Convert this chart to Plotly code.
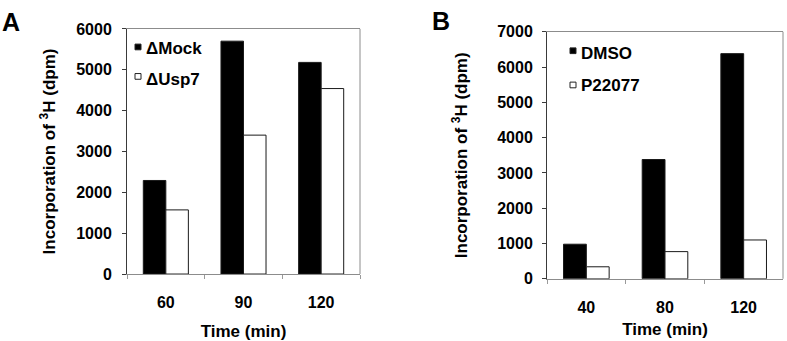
import plotly.graph_objects as go

# Panel A: [3H] incorporation, mock vs Usp7 depletion
times_a = ["60", "90", "120"]
mock = [2290, 5700, 5180]
usp7 = [1570, 3400, 4540]

# Panel B: [3H] incorporation, DMSO vs P22077
times_b = ["40", "80", "120"]
dmso = [980, 3380, 6380]
p22077 = [340, 770, 1100]

yticks_a = [0, 1000, 2000, 3000, 4000, 5000, 6000]
yticks_b = [0, 1000, 2000, 3000, 4000, 5000, 6000, 7000]

W, H = 787, 341
FONT = "Liberation Sans, Arial, Helvetica, sans-serif"


def px(x):
    return x / W


def py(y):
    return 1 - y / H


fig = go.Figure()

bar_line = dict(color="#1a1a1a", width=1)
fig.add_bar(x=times_a, y=mock, name="ΔMock", marker=dict(color="black", line=bar_line),
            xaxis="x", yaxis="y", showlegend=False)
fig.add_bar(x=times_a, y=usp7, name="ΔUsp7", marker=dict(color="white", line=bar_line),
            xaxis="x", yaxis="y", showlegend=False)
fig.add_bar(x=times_b, y=dmso, name="DMSO", marker=dict(color="black", line=bar_line),
            xaxis="x2", yaxis="y2", showlegend=False)
fig.add_bar(x=times_b, y=p22077, name="P22077", marker=dict(color="white", line=bar_line),
            xaxis="x2", yaxis="y2", showlegend=False)

tick_font = dict(family=FONT, size=16, color="black")
title_font = dict(family=FONT, size=17, color="black")

xcommon = dict(type="category", showline=True, linecolor="#8c8c8c", linewidth=1,
               mirror=True, ticks="outside", ticklen=4, tickcolor="#9a9a9a",
               tickson="boundaries", tickfont=tick_font, showgrid=False,
               zeroline=False, fixedrange=True, ticklabelstandoff=14)
ycommon = dict(showline=True, linecolor="#3a3a3a", linewidth=1, ticks="outside",
               ticklen=4, tickcolor="#3a3a3a", tickfont=tick_font, showgrid=False,
               zeroline=False, fixedrange=True)

bold = lambda v: f"<b>{v}</b>"

fig.update_layout(
    width=W, height=H,
    margin=dict(l=0, r=0, t=0, b=0),
    paper_bgcolor="white", plot_bgcolor="white",
    barmode="group", bargap=0.42, bargroupgap=0,
    font=dict(family=FONT, color="black"),
    xaxis=dict(xcommon, domain=[px(127), px(360)], anchor="y",
               tickvals=times_a, ticktext=[bold(t) for t in times_a],
               title=dict(text="<b>Time (min)</b>", font=title_font, standoff=15)),
    yaxis=dict(ycommon, domain=[py(280), py(22)], anchor="x",
               range=[0, 6000], tickvals=yticks_a, ticktext=[bold(v) for v in yticks_a],
               ticklabelstandoff=7,
               title=dict(text="<b>Incorporation of <sup>3</sup>H (dpm)</b>",
                          font=title_font, standoff=16)),
    xaxis2=dict(xcommon, domain=[px(547), px(783)], anchor="y2",
                tickvals=times_b, ticktext=[bold(t) for t in times_b],
                title=dict(text="<b>Time (min)</b>", font=title_font, standoff=8)),
    yaxis2=dict(ycommon, domain=[py(285), py(25)], anchor="x2",
                range=[0, 7000], tickvals=yticks_b, ticktext=[bold(v) for v in yticks_b],
                ticklabelstandoff=6,
                title=dict(text="<b>Incorporation of <sup>3</sup>H (dpm)</b>",
                           font=title_font, standoff=25)),
)

# right-hand frame edges in a lighter grey
for xr, yr in (("x domain", "y domain"), ("x2 domain", "y2 domain")):
    fig.add_shape(type="line", xref=xr, yref=yr, x0=1, x1=1, y0=0, y1=1,
                  line=dict(color="#8c8c8c", width=1))

# panel letters
fig.add_annotation(x=px(0), y=py(15), xref="paper", yref="paper", xanchor="left", yanchor="middle",
                   text="<b>A</b>", showarrow=False, font=dict(family=FONT, size=25, color="black"))
fig.add_annotation(x=px(430), y=py(14), xref="paper", yref="paper", xanchor="left", yanchor="middle",
                   text="<b>B</b>", showarrow=False, font=dict(family=FONT, size=25, color="black"))

# in-plot keys: small square swatch followed by the series name
keys = [
    ("ΔMock", "black", 135, 38, 144, 43),
    ("ΔUsp7", "white", 135, 69, 144, 75),
    ("DMSO", "black", 570, 42, 579, 48),
    ("P22077", "white", 570, 78, 579, 82),
]
for name, color, sx, sy, tx, ty in keys:
    fig.add_shape(type="rect", xref="paper", yref="paper",
                  x0=px(sx), x1=px(sx + 6), y0=py(sy), y1=py(sy + 6),
                  fillcolor=color, line=dict(color="#222", width=1))
    fig.add_annotation(x=px(tx), y=py(ty), xref="paper", yref="paper",
                       xanchor="left", yanchor="middle", text=bold(name),
                       showarrow=False, font=dict(family=FONT, size=17, color="black"))

fig.write_html("out.html")
